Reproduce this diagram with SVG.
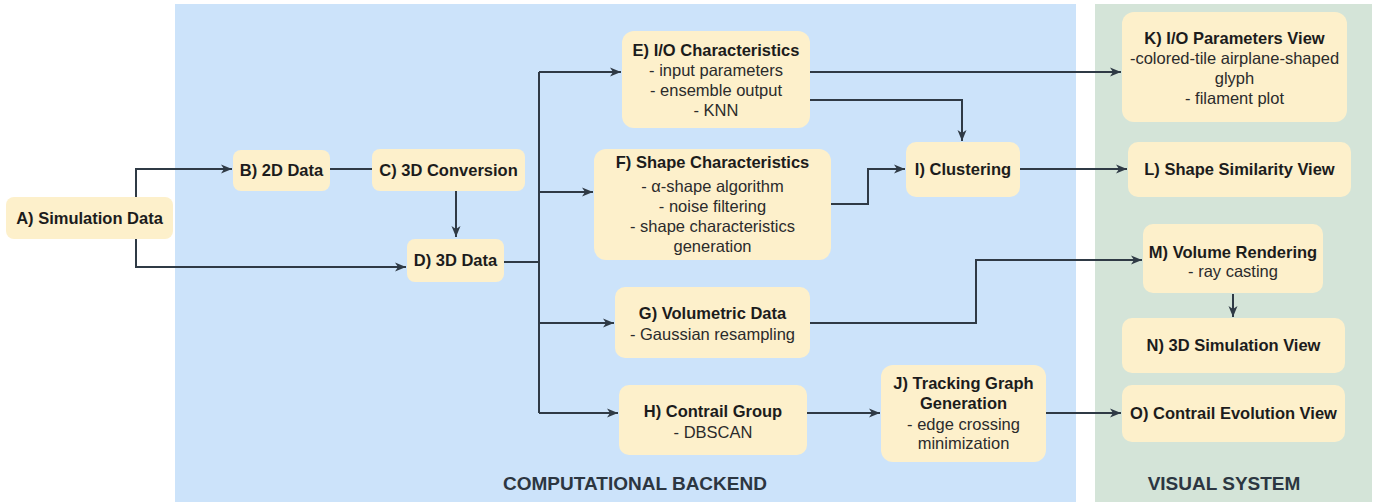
<svg xmlns="http://www.w3.org/2000/svg" width="1376" height="502" viewBox="0 0 1376 502">
<defs>
<marker id="arr" markerWidth="12" markerHeight="10" viewBox="0 0 12 10" refX="11" refY="5" orient="auto" markerUnits="userSpaceOnUse">
<path d="M0,0.5 L11,5 L0,9.5 L3,5 Z" fill="#2f3a45"/>
</marker>
<style>
.node rect{fill:#fdf0cb;}
text{font-family:"Liberation Sans",Arial,sans-serif;text-anchor:middle;}
.t{font-size:16.5px;font-weight:bold;fill:#1c1c1c;}
.s{font-size:16.5px;fill:#2b2b2b;}
.lbl{font-size:19px;font-weight:bold;fill:#2c3641;}
.c{fill:none;stroke:#2f3a45;stroke-width:2;}
.a{marker-end:url(#arr);}
</style>
</defs>
<rect width="1376" height="502" fill="#ffffff"/>
<rect id="backend-panel" x="175" y="4" width="901" height="498" fill="#cce3fa"/>
<rect id="visual-panel" x="1095" y="4" width="277" height="498" fill="#d4e4d8"/>
<text class="lbl" x="635" y="490">COMPUTATIONAL BACKEND</text>
<text class="lbl" x="1224" y="490">VISUAL SYSTEM</text>

<g id="connectors">
<path class="c a" d="M136,197 V169 H232"/>
<path class="c a" d="M136,239 V267 H406"/>
<path class="c" d="M330,169 H372"/>
<path class="c a" d="M456,191 V237"/>
<path class="c" d="M504,262 H539"/>
<path class="c" d="M539,72 V413"/>
<path class="c a" d="M539,72 H621"/>
<path class="c a" d="M539,192 H593"/>
<path class="c a" d="M539,323 H614"/>
<path class="c a" d="M539,413 H618"/>
<path class="c a" d="M810,72 H1121"/>
<path class="c a" d="M810,100 H962 V141"/>
<path class="c a" d="M831,204 H868 V169 H905"/>
<path class="c a" d="M1020,169 H1127"/>
<path class="c a" d="M810,323 H976 V260 H1142"/>
<path class="c a" d="M807,413 H880"/>
<path class="c a" d="M1046,413 H1121"/>
<path class="c a" d="M1233,294 V317"/>
</g>

<g id="A" class="node"><rect x="6" y="197" width="167" height="42" rx="8"/><text class="t" x="89.5" y="224">A) Simulation Data</text></g>
<g id="B" class="node"><rect x="233" y="150" width="97" height="41" rx="8"/><text class="t" x="281.5" y="176">B) 2D Data</text></g>
<g id="C" class="node"><rect x="372" y="149" width="153" height="42" rx="8"/><text class="t" x="448.5" y="176">C) 3D Conversion</text></g>
<g id="D" class="node"><rect x="407" y="239" width="97" height="43" rx="8"/><text class="t" x="455.5" y="266">D) 3D Data</text></g>
<g id="E" class="node"><rect x="622" y="31" width="188" height="97" rx="12"/>
<text class="t" x="716" y="56">E) I/O Characteristics</text>
<text class="s" x="716" y="76">- input parameters</text>
<text class="s" x="716" y="96">- ensemble output</text>
<text class="s" x="716" y="116">- KNN</text></g>
<g id="F" class="node"><rect x="594" y="149" width="237" height="111" rx="12"/>
<text class="t" x="712.5" y="168">F) Shape Characteristics</text>
<text class="s" x="712.5" y="192">- α-shape algorithm</text>
<text class="s" x="712.5" y="212">- noise filtering</text>
<text class="s" x="712.5" y="232">- shape characteristics</text>
<text class="s" x="712.5" y="252">generation</text></g>
<g id="G" class="node"><rect x="615" y="287" width="195" height="71" rx="10"/>
<text class="t" x="712.5" y="319">G) Volumetric Data</text>
<text class="s" x="712.5" y="340">- Gaussian resampling</text></g>
<g id="H" class="node"><rect x="619" y="385" width="188" height="70" rx="10"/>
<text class="t" x="713" y="417">H) Contrail Group</text>
<text class="s" x="713" y="438">- DBSCAN</text></g>
<g id="I" class="node"><rect x="906" y="142" width="114" height="55" rx="10"/>
<text class="t" x="963" y="175">I) Clustering</text></g>
<g id="J" class="node"><rect x="881" y="365" width="165" height="97" rx="12"/>
<text class="t" x="963.5" y="389">J) Tracking Graph</text>
<text class="t" x="963.5" y="409">Generation</text>
<text class="s" x="963.5" y="430">- edge crossing</text>
<text class="s" x="963.5" y="449">minimization</text></g>
<g id="K" class="node"><rect x="1122" y="12" width="225" height="110" rx="12"/>
<text class="t" x="1234.5" y="44">K) I/O Parameters View</text>
<text class="s" x="1234.5" y="64">-colored-tile airplane-shaped</text>
<text class="s" x="1234.5" y="84">glyph</text>
<text class="s" x="1234.5" y="104">- filament plot</text></g>
<g id="L" class="node"><rect x="1128" y="142" width="223" height="55" rx="10"/>
<text class="t" x="1239.5" y="175">L) Shape Similarity View</text></g>
<g id="M" class="node"><rect x="1143" y="224" width="180" height="69" rx="10"/>
<text class="t" x="1233" y="258">M) Volume Rendering</text>
<text class="s" x="1233" y="277">- ray casting</text></g>
<g id="N" class="node"><rect x="1122" y="318" width="223" height="55" rx="10"/>
<text class="t" x="1233.5" y="351">N) 3D Simulation View</text></g>
<g id="O" class="node"><rect x="1122" y="385" width="223" height="57" rx="10"/>
<text class="t" x="1233.5" y="419">O) Contrail Evolution View</text></g>
</svg>
